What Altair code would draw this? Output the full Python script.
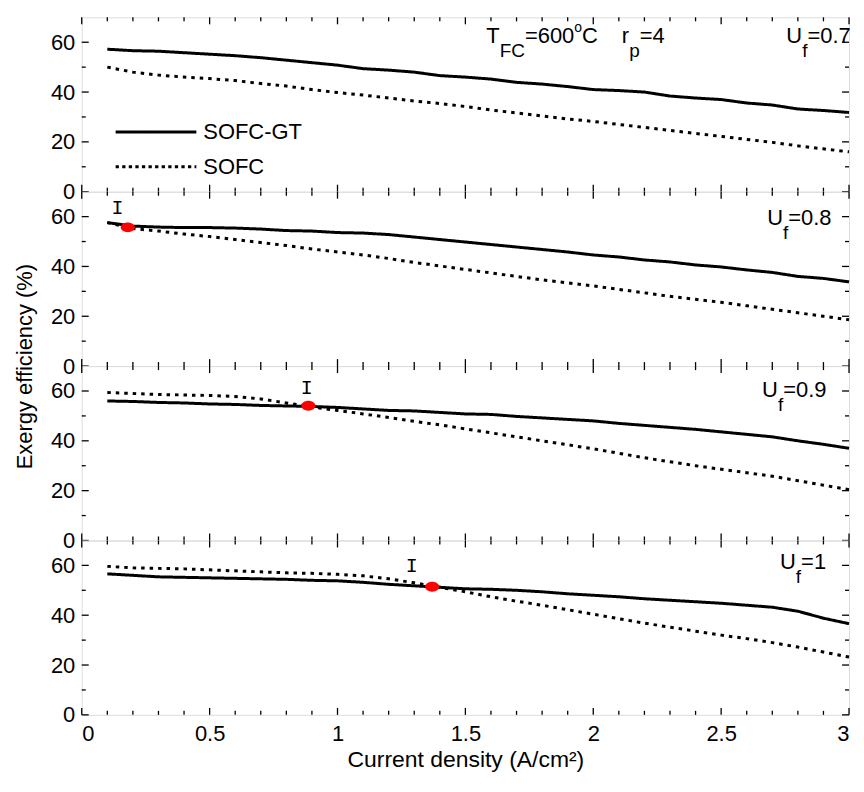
import altair as alt
import pandas as pd

# ---------------- data ----------------
current_density = [0.1, 0.2, 0.3, 0.4, 0.5, 0.6, 0.7, 0.8, 0.9, 1.0,
                   1.1, 1.2, 1.3, 1.4, 1.5, 1.6, 1.7, 1.8, 1.9, 2.0,
                   2.1, 2.2, 2.3, 2.4, 2.5, 2.6, 2.7, 2.8, 2.9, 3.0]

uf_names = ["0.7", "0.8", "0.9", "1"]
series_names = ["SOFC-GT", "SOFC"]

gt_07 = [57.2, 56.6, 56.4, 55.8, 55.2, 54.6, 53.8, 52.8, 51.8, 50.8,
         49.4, 48.8, 48.0, 46.6, 46.0, 45.2, 43.9, 43.2, 42.2, 41.0,
         40.6, 40.0, 38.4, 37.6, 37.0, 35.6, 34.8, 33.2, 32.6, 31.8]
sofc_07 = [50.0, 48.0, 46.8, 46.0, 45.4, 44.6, 43.4, 42.4, 41.0, 39.8,
           38.8, 37.6, 36.4, 35.4, 34.2, 32.8, 31.6, 30.4, 29.2, 28.2,
           27.0, 25.8, 24.6, 23.4, 22.2, 21.0, 19.8, 18.4, 17.2, 16.0]

gt_08 = [57.6, 56.2, 55.8, 55.6, 55.6, 55.4, 55.0, 54.4, 54.2, 53.6,
         53.4, 52.8, 51.8, 50.8, 49.8, 48.8, 47.8, 46.8, 45.8, 44.6,
         43.8, 42.6, 41.8, 40.6, 39.8, 38.6, 37.6, 36.0, 35.2, 33.8]
sofc_08 = [57.6, 55.2, 54.2, 53.0, 52.0, 50.8, 49.6, 48.4, 47.0, 45.8,
           44.6, 43.2, 41.6, 40.2, 38.8, 37.4, 36.0, 34.6, 33.4, 32.2,
           30.8, 29.4, 28.0, 26.8, 25.6, 24.2, 22.8, 21.4, 20.0, 18.6]

gt_09 = [56.0, 55.8, 55.4, 55.2, 54.8, 54.6, 54.2, 54.0, 53.8, 53.4,
         52.8, 52.2, 52.0, 51.4, 50.8, 50.6, 49.8, 49.2, 48.6, 48.0,
         47.0, 46.2, 45.4, 44.6, 43.6, 42.6, 41.6, 40.0, 38.6, 37.0]
sofc_09 = [59.4, 59.0, 58.6, 58.4, 58.2, 57.8, 56.8, 55.2, 53.6, 52.2,
           50.8, 49.4, 47.8, 46.4, 44.8, 43.2, 41.6, 40.0, 38.4, 36.8,
           35.0, 33.2, 31.6, 30.0, 28.6, 27.2, 25.8, 24.0, 22.2, 20.4]

gt_10 = [56.6, 56.0, 55.4, 55.2, 55.0, 54.8, 54.6, 54.4, 54.0, 53.8,
         53.2, 52.4, 51.8, 51.2, 50.6, 50.4, 50.0, 49.4, 48.6, 48.0,
         47.4, 46.6, 46.0, 45.4, 44.8, 44.0, 43.2, 41.6, 38.8, 36.6]
sofc_10 = [59.6, 59.0, 58.8, 58.6, 58.2, 57.8, 57.4, 57.0, 56.8, 56.4,
           55.8, 54.6, 53.0, 51.2, 49.4, 47.4, 45.6, 44.0, 42.2, 40.4,
           38.6, 36.8, 35.2, 33.6, 32.0, 30.6, 29.0, 27.2, 25.2, 23.2]

# crossing points (red dots) and "I" markers, panels 0.8, 0.9, 1
cross_panel = ["0.8", "0.9", "1"]
cross_x = [0.18, 0.886, 1.37]
cross_y = [55.7, 54.1, 51.4]
mark_i_x = [0.14, 0.88, 1.29]
mark_i_y = [63.3, 61.0, 59.6]

# panel label text
uf_label_value = ["=0.7", "=0.8", "=0.9", "=1"]
uf_label_x = [2.755, 2.68, 2.66, 2.73]
uf_label_y = [59.8, 56.6, 57.4, 58.5]
cond_label_x = [1.582]
cond_label_y = [59.8]

x_major = [0, 0.5, 1, 1.5, 2, 2.5, 3]
x_minor = [0.1, 0.2, 0.3, 0.4, 0.6, 0.7, 0.8, 0.9, 1.1, 1.2, 1.3, 1.4,
           1.6, 1.7, 1.8, 1.9, 2.1, 2.2, 2.3, 2.4, 2.6, 2.7, 2.8, 2.9]
y_major = [0, 20, 40, 60]
y_minor = [10, 30, 50]

# ---------------- tables ----------------
all_series = {
    "0.7": (gt_07, sofc_07),
    "0.8": (gt_08, sofc_08),
    "0.9": (gt_09, sofc_09),
    "1": (gt_10, sofc_10),
}
rows = []
for uf, (gt, so) in all_series.items():
    for xv, a, b in zip(current_density, gt, so):
        rows.append({"panel": uf, "series": "SOFC-GT", "x": xv, "y": a})
        rows.append({"panel": uf, "series": "SOFC", "x": xv, "y": b})
df = pd.DataFrame(rows)

cross_df = pd.DataFrame({"panel": cross_panel, "x": cross_x, "y": cross_y,
                         "ix": mark_i_x, "iy": mark_i_y})
label_df = pd.DataFrame({"panel": uf_names, "x": uf_label_x, "y": uf_label_y,
                         "val": uf_label_value})
cond_df = pd.DataFrame({"x": cond_label_x, "y": cond_label_y})
xmaj_df = pd.DataFrame({"v": x_major})
xmin_df = pd.DataFrame({"v": x_minor})
ymaj_df = pd.DataFrame({"v": y_major})
ymin_df = pd.DataFrame({"v": y_minor})
legend_df = pd.DataFrame({"series": series_names})

# ---------------- chart ----------------
W, H = 770, 175
FONT = "Liberation Sans"
xscale = alt.Scale(domain=[0, 3], nice=False, zero=False)
yscale = alt.Scale(domain=[0, 70], nice=False)
dash_scale = alt.Scale(domain=series_names, range=[[1, 0], [3.5, 5]])

MAJ, MIN = 7, 4


def make_panel(k):
    uf = uf_names[k]
    d = df[df.panel == uf]
    last = k == 3

    if last:
        xaxis = alt.Axis(values=x_major, format="~g", ticks=False, tickSize=0,
                         domain=False, grid=False, labelFontSize=22,
                         labelPadding=9, labelFont=FONT,
                         title="Current density (A/cm²)", titleFontSize=23,
                         titleFont=FONT, titleFontWeight="normal",
                         titlePadding=4, titleColor="black", labelColor="black")
    else:
        xaxis = alt.Axis(values=x_major, labels=False, ticks=False, tickSize=0,
                         domain=False, grid=False, title=None)

    ykw = dict(values=y_major, ticks=False, tickSize=0, domain=False, grid=False,
               labelFontSize=22, labelPadding=7, labelFont=FONT,
               labelColor="black", labelOverlap=False)
    if k == 1:
        yaxis = alt.Axis(title="Exergy efficiency (%)", titleX=-50, titleY=H,
                         titleAngle=-90, titleAlign="center",
                         titleBaseline="alphabetic", titleFontSize=22,
                         titleFont=FONT, titleFontWeight="normal",
                         titleColor="black", **ykw)
    else:
        yaxis = alt.Axis(title=None, **ykw)

    def X(f):
        return alt.X(f"{f}:Q", scale=xscale, axis=xaxis)

    def Y(f):
        return alt.Y(f"{f}:Q", scale=yscale, axis=yaxis)

    def text_part(data, text, size, dx, dy, field=False):
        mk = alt.Chart(data).mark_text(align="left", baseline="alphabetic",
                                       fontSize=size, dx=dx, dy=dy,
                                       color="black", font=FONT)
        t = alt.Text(f"{text}:N") if field else alt.value(text)
        return mk.encode(x=X("x"), y=Y("y"), text=t)

    lines = alt.Chart(d).mark_line(color="black", strokeWidth=3).encode(
        x=X("x"), y=Y("y"),
        strokeDash=alt.StrokeDash("series:N", scale=dash_scale, legend=None),
        detail="series:N",
    )

    layers = [lines]

    # Uf label: U, subscript f, value
    ldf = label_df[label_df.panel == uf]
    layers.append(text_part(ldf, "U", 22, 0, 0))
    layers.append(text_part(ldf, "f", 19, 15.9, 14))
    layers.append(text_part(ldf, "val", 22, 21.2, 0, field=True))

    if k == 0:
        parts = [("T", 22, 0, 0), ("FC", 19, 13.4, 14), ("=600", 22, 38.7, 0),
                 ("o", 14, 88.2, -11), ("C", 22, 96, 0), ("r", 22, 136, 0),
                 ("p", 19, 143.3, 14), ("=4", 22, 153.9, 0)]
        for t, s, dx, dy in parts:
            layers.append(text_part(cond_df, t, s, dx, dy))
        # legend
        for name, ypx, dash in ((series_names[0], 115, [1, 0]),
                                (series_names[1], 150, [3.3, 3.3])):
            ld = legend_df[legend_df.series == name]
            layers.append(alt.Chart(ld).mark_rule(color="black", strokeWidth=3,
                                                  strokeDash=dash).encode(
                x=alt.value(34), x2=alt.value(115), y=alt.value(ypx)))
            layers.append(alt.Chart(ld).mark_text(align="left", baseline="middle",
                                                  fontSize=22, font=FONT,
                                                  color="black").encode(
                x=alt.value(122), y=alt.value(ypx), text="series:N"))
    else:
        cdf = cross_df[cross_df.panel == uf]
        layers.append(alt.Chart(cdf).mark_point(
            filled=True, color="#ff0000", opacity=1, size=200,
            shape="M -1 0 A 1 0.7 0 1 0 1 0 A 1 0.7 0 1 0 -1 0 Z").encode(
            x=X("x"), y=Y("y")))
        layers.append(alt.Chart(cdf).mark_text(
            font="Liberation Mono", fontSize=20, baseline="middle",
            align="center", color="black").encode(
            x=X("ix"), y=Y("iy"), text=alt.value("I")))

    # inward ticks on all four sides
    for tdf, ln in ((xmaj_df, MAJ), (xmin_df, MIN)):
        base = alt.Chart(tdf).mark_rule(color="black", strokeWidth=1.3)
        layers.append(base.encode(x=X("v"), y=alt.value(0), y2=alt.value(ln)))
        layers.append(base.encode(x=X("v"), y=alt.value(H), y2=alt.value(H - ln)))
    for tdf, ln in ((ymaj_df, MAJ), (ymin_df, MIN)):
        base = alt.Chart(tdf).mark_rule(color="black", strokeWidth=1.3)
        layers.append(base.encode(y=Y("v"), x=alt.value(0), x2=alt.value(ln)))
        layers.append(base.encode(y=Y("v"), x=alt.value(W), x2=alt.value(W - ln)))

    return alt.layer(*layers).properties(width=W, height=H)


chart = alt.vconcat(*[make_panel(k) for k in range(4)], spacing=0,
                    bounds="flush").properties(
    padding={"left": 5, "top": 6, "right": 0, "bottom": 0}
).configure_view(stroke="black", strokeWidth=1.6).configure(background="white")

chart.save("out.html", embed_options={"renderer": "svg", "actions": False})
